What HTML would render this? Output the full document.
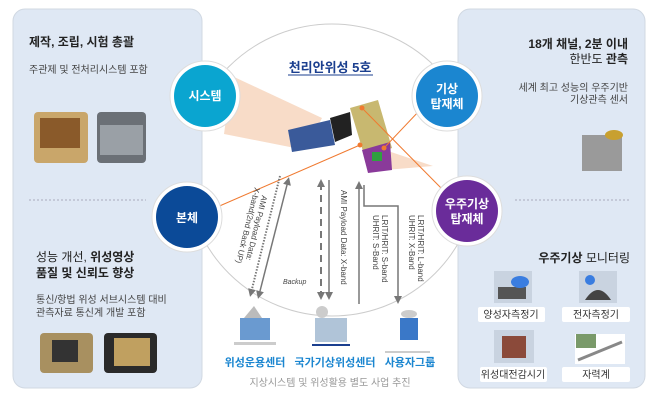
<!DOCTYPE html>
<html><head><meta charset="utf-8"><style>
body{margin:0;background:#fff;}
svg{display:block;font-family:"Liberation Sans","Noto Sans CJK KR",sans-serif;}
</style></head><body>
<svg width="663" height="400" viewBox="0 0 663 400" xmlns="http://www.w3.org/2000/svg">
<defs>
<marker id="ah" markerWidth="8" markerHeight="8" refX="4" refY="4" orient="auto" markerUnits="userSpaceOnUse"><path d="M0,0 L8,4 L0,8 z" fill="#777"/></marker>
<marker id="as" markerWidth="8" markerHeight="8" refX="4" refY="4" orient="auto-start-reverse" markerUnits="userSpaceOnUse"><path d="M0,0 L8,4 L0,8 z" fill="#777"/></marker>
</defs>
<!-- big circle -->
<circle cx="332" cy="170" r="146" fill="#fff" stroke="#ccc" stroke-width="1"/>
<!-- panels -->
<rect x="13" y="9" width="189" height="379" rx="12" fill="#dfe8f4" stroke="#d0d8e2"/>
<rect x="458" y="9" width="187" height="379" rx="12" fill="#dfe8f4" stroke="#d0d8e2"/>
<line x1="29" y1="200" x2="146" y2="200" stroke="#aab" stroke-dasharray="2,2"/>
<line x1="515" y1="200" x2="630" y2="200" stroke="#aab" stroke-dasharray="2,2"/>
<!-- left text -->
<text x="29" y="46" font-size="12" font-weight="bold" fill="#222">제작, 조립, 시험 총괄</text>
<text x="29" y="73" font-size="10" fill="#444">주관제 및 전처리시스템 포함</text>
<rect x="34" y="112" width="54" height="51" rx="4" fill="#c9a66a"/>
<rect x="40" y="118" width="40" height="30" fill="#8a5a2a"/>
<rect x="97" y="112" width="49" height="51" rx="4" fill="#6b7076"/>
<rect x="100" y="125" width="43" height="30" fill="#9aa0a6"/>
<text x="36" y="261" font-size="12" fill="#222">성능 개선, <tspan font-weight="bold">위성영상</tspan></text>
<text x="36" y="277" font-size="12" font-weight="bold" fill="#222">품질 및 신뢰도 향상</text>
<text x="36" y="303" font-size="10" fill="#444">통신/항법 위성 서브시스템 대비</text>
<text x="36" y="316" font-size="10" fill="#444">관측자료 통신계 개발 포함</text>
<rect x="40" y="333" width="53" height="40" rx="4" fill="#a89060"/>
<rect x="52" y="340" width="26" height="22" fill="#333"/>
<rect x="104" y="333" width="53" height="40" rx="4" fill="#2a2a2a"/>
<rect x="114" y="338" width="36" height="28" fill="#c0a060"/>
<!-- right text -->
<text x="628" y="48" font-size="12" font-weight="bold" fill="#222" text-anchor="end">18개 채널, 2분 이내</text>
<text x="628" y="63" font-size="12" fill="#222" text-anchor="end">한반도 <tspan font-weight="bold">관측</tspan></text>
<text x="628" y="91" font-size="10" fill="#444" text-anchor="end">세계 최고 성능의 우주기반</text>
<text x="628" y="103" font-size="10" fill="#444" text-anchor="end">기상관측 센서</text>
<rect x="582" y="135" width="40" height="36" fill="#9a9a9a"/>
<ellipse cx="614" cy="135" rx="9" ry="5" fill="#c8a030"/>
<text x="630" y="262" font-size="12" fill="#222" text-anchor="end"><tspan font-weight="bold">우주기상</tspan> 모니터링</text>
<rect x="494" y="271" width="38" height="32" fill="#c9d3e0"/><rect x="498" y="287" width="28" height="12" fill="#555"/><ellipse cx="520" cy="282" rx="9" ry="6" fill="#3a7de0"/>
<rect x="579" y="271" width="38" height="32" fill="#c9d3e0"/><path d="M585,300 Q598,280 611,300z" fill="#444"/><circle cx="590" cy="280" r="5" fill="#3a7de0"/>
<rect x="478" y="307" width="67" height="15" rx="2" fill="#fff"/><text x="511" y="318" font-size="10" fill="#333" text-anchor="middle">양성자측정기</text>
<rect x="562" y="307" width="68" height="15" rx="2" fill="#fff"/><text x="596" y="318" font-size="10" fill="#333" text-anchor="middle">전자측정기</text>
<rect x="494" y="330" width="40" height="33" fill="#c9d3e0"/><rect x="502" y="336" width="24" height="22" fill="#8b4a3a"/>
<rect x="575" y="334" width="50" height="30" fill="#fff"/><line x1="578" y1="360" x2="622" y2="342" stroke="#888" stroke-width="3"/><rect x="576" y="334" width="20" height="14" fill="#7a9a6a"/>
<rect x="480" y="367" width="67" height="15" rx="2" fill="#fff"/><text x="513" y="378" font-size="10" fill="#333" text-anchor="middle">위성대전감시기</text>
<rect x="562" y="367" width="68" height="15" rx="2" fill="#fff"/><text x="596" y="378" font-size="10" fill="#333" text-anchor="middle">자력계</text>
<!-- cones -->
<polygon points="232,76 224,134 305,150 322,118" fill="#f8dcc8"/>
<polygon points="385,150 385,170 433,166" fill="#f8dcc8"/>
<!-- satellite -->
<polygon points="288,130 330,120 335,145 292,152" fill="#3a5a9a"/>
<polygon points="330,118 350,112 352,135 335,142" fill="#222"/>
<polygon points="350,108 378,100 392,148 365,158" fill="#c8b870"/>
<polygon points="362,150 390,142 392,170 368,173" fill="#8a3a9a"/>
<rect x="372" y="152" width="10" height="9" fill="#30a040"/>
<!-- orange lines -->
<line x1="208" y1="211" x2="360" y2="145" stroke="#f07a30" stroke-width="1"/>
<line x1="420" y1="110" x2="384" y2="148" stroke="#f07a30" stroke-width="1"/>
<line x1="362" y1="108" x2="445" y2="192" stroke="#f07a30" stroke-width="1"/>
<circle cx="360" cy="145" r="2.5" fill="#f07a30"/><circle cx="384" cy="148" r="2.5" fill="#f07a30"/><circle cx="362" cy="108" r="2.5" fill="#f07a30"/>
<!-- title -->
<text x="330" y="72" font-size="13" font-weight="bold" fill="#1b3f8f" text-anchor="middle">천리안위성 5호</text>
<line x1="288" y1="75" x2="373" y2="75" stroke="#1b3f8f"/>
<!-- circles -->
<circle cx="205" cy="96" r="35" fill="#fff" stroke="#ddd"/><circle cx="205" cy="96" r="31" fill="#0aa5d0"/>
<text x="205" y="100" font-size="12" font-weight="bold" fill="#fff" text-anchor="middle">시스템</text>
<circle cx="187" cy="217" r="35" fill="#fff" stroke="#ddd"/><circle cx="187" cy="217" r="31" fill="#0b4a98"/>
<text x="187" y="222" font-size="12" font-weight="bold" fill="#fff" text-anchor="middle">본체</text>
<circle cx="447" cy="96" r="35" fill="#fff" stroke="#ddd"/><circle cx="447" cy="96" r="31" fill="#1b86d0"/>
<text x="447" y="93" font-size="12" font-weight="bold" fill="#fff" text-anchor="middle">기상</text>
<text x="447" y="108" font-size="12" font-weight="bold" fill="#fff" text-anchor="middle">탑재체</text>
<circle cx="467" cy="211" r="35" fill="#fff" stroke="#ddd"/><circle cx="467" cy="211" r="31" fill="#6a2c9a"/>
<text x="467" y="208" font-size="12" font-weight="bold" fill="#fff" text-anchor="middle">우주기상</text>
<text x="467" y="223" font-size="12" font-weight="bold" fill="#fff" text-anchor="middle">탑재체</text>
<!-- arrows -->
<line x1="280" y1="176" x2="251" y2="293" stroke="#777" stroke-width="2" stroke-dasharray="1.5,1.5" marker-end="url(#ah)"/>
<line x1="288" y1="181" x2="259" y2="295" stroke="#777" stroke-width="1.5" marker-start="url(#as)" marker-end="url(#ah)"/>
<g transform="translate(262,195) rotate(104)"><text font-size="8" fill="#444">AMI Payload Data:</text><text y="9" x="-6" font-size="8" fill="#444">X-band(2nd Back UP)</text></g>
<line x1="321" y1="183" x2="321" y2="296" stroke="#777" stroke-width="2" stroke-dasharray="7,5" marker-start="url(#as)" marker-end="url(#ah)"/>
<line x1="329" y1="180" x2="329" y2="296" stroke="#777" stroke-width="1.5" marker-end="url(#ah)"/>
<g transform="translate(341,190) rotate(90)"><text font-size="8" fill="#444">AMI Payload Data: X-band</text></g>
<line x1="359" y1="304" x2="359" y2="185" stroke="#777" stroke-width="1.5" marker-end="url(#ah)"/>
<polyline points="364,185 364,206 398,206 398,300" fill="none" stroke="#777" stroke-width="1.5" marker-end="url(#ah)"/>
<g transform="translate(382,215) rotate(90)"><text font-size="8" fill="#444">LRIT/HRIT: S-band</text><text y="9" font-size="8" fill="#444">UHRIT: S-Band</text></g>
<g transform="translate(418,215) rotate(90)"><text font-size="8" fill="#444">LRIT/HRIT: L-band</text><text y="9" font-size="8" fill="#444">UHRIT: X-Band</text></g>
<text x="283" y="284" font-size="7" font-style="italic" fill="#444">Backup</text>
<!-- ground icons -->
<rect x="240" y="318" width="30" height="22" fill="#6a9ad0"/><polygon points="244,318 254,306 262,318" fill="#bbb"/><rect x="234" y="342" width="42" height="3" fill="#ccc"/>
<rect x="315" y="318" width="32" height="24" fill="#b0c4d8"/><circle cx="322" cy="312" r="6" fill="#ccc"/><rect x="312" y="344" width="38" height="2" fill="#1b3f8f"/>
<rect x="400" y="318" width="18" height="22" fill="#3a78c8"/><ellipse cx="409" cy="314" rx="8" ry="4" fill="#ccc"/><rect x="385" y="351" width="45" height="2" fill="#ccc"/>
<text x="255" y="366" font-size="11" font-weight="bold" fill="#1b86d0" text-anchor="middle">위성운용센터</text>
<text x="335" y="366" font-size="11" font-weight="bold" fill="#1b86d0" text-anchor="middle">국가기상위성센터</text>
<text x="410" y="366" font-size="11" font-weight="bold" fill="#1b86d0" text-anchor="middle">사용자그룹</text>
<text x="330" y="386" font-size="10" fill="#999" text-anchor="middle">지상시스템 및 위성활용 별도 사업 추진</text>
</svg>
</body></html>
